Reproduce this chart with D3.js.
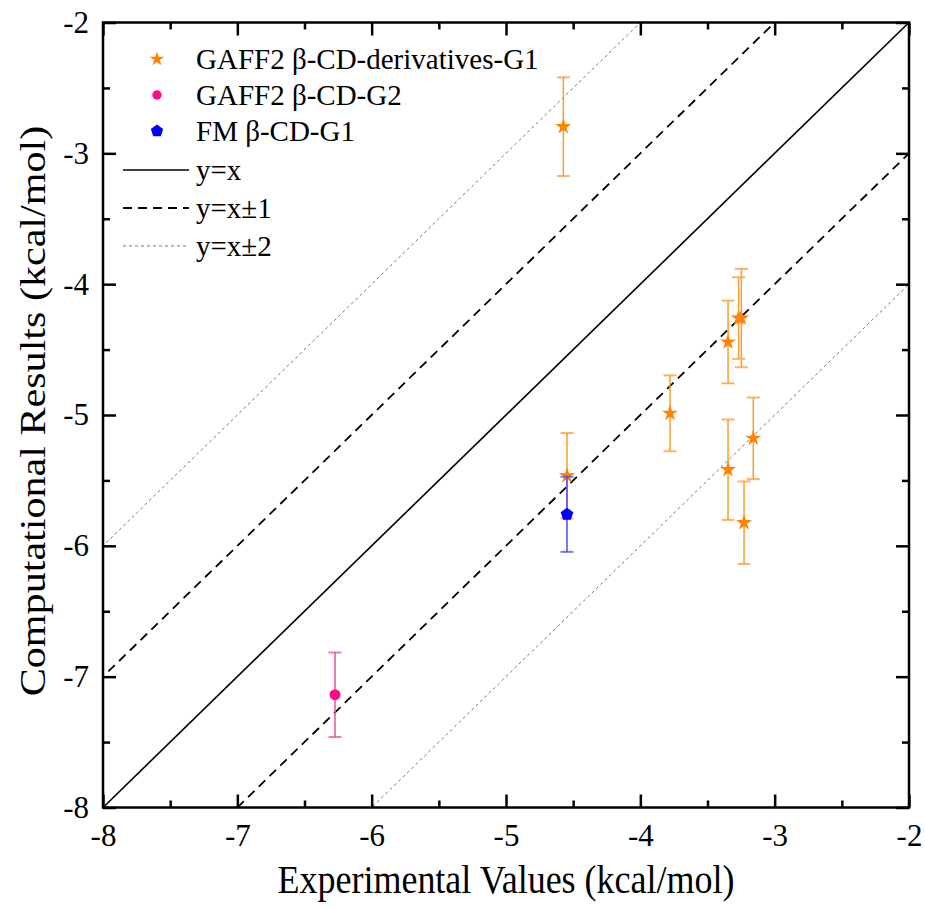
<!DOCTYPE html>
<html>
<head>
<meta charset="utf-8">
<script src="https://cdn.jsdelivr.net/npm/d3@7"></script>
<style>
  body { margin: 0; background: #fff; }
  text { font-family: "Liberation Serif", "Times New Roman", serif; fill: #000; }
</style>
</head>
<body>
<div id="chart"></div>
<script>
const width = 925,
  height = 908,
  margin = { top: 22.5, right: 16, bottom: 100.5, left: 103 };

// data
const derivExp = [-4.573, -3.347, -3.268, -3.248, -3.779, -3.347, -3.159, -3.228, -4.546];
const derivCalc = [-2.796, -4.442, -4.259, -4.259, -4.987, -5.418, -5.178, -5.823, -5.464];
const derivErr = [0.377, 0.316, 0.312, 0.376, 0.29, 0.384, 0.312, 0.315, 0.326];

const g2Exp = [-6.273];
const g2Calc = [-7.138];
const g2Err = [0.323];

const fmExp = [-4.546];
const fmCalc = [-5.759];
const fmErr = [0.287];

const majorTicks = [-8, -7, -6, -5, -4, -3, -2];
const minorTicks = [-7.5, -6.5, -5.5, -4.5, -3.5, -2.5];

const legendNames = ["GAFF2 β-CD-derivatives-G1", "GAFF2 β-CD-G2", "FM β-CD-G1", "y=x", "y=x±1", "y=x±2"];
const refOffsets = [0, 1, -1, 2, -2];

const w = width - margin.left - margin.right,
  h = height - margin.top - margin.bottom;

const svg = d3.select("#chart")
  .append("svg")
  .attr("width", width)
  .attr("height", height);

const x = d3.scaleLinear().domain([-8, -2]).range([0, w]);
const y = d3.scaleLinear().domain([-8, -2]).range([h, 0]);

svg.append("defs").append("clipPath").attr("id", "clip")
  .append("rect").attr("width", w).attr("height", h);

const g = svg.append("g")
  .attr("transform", `translate(${margin.left},${margin.top})`);

// reference lines
const refStyle = off => off === 0 ? { c: "#000", sw: 1.6, da: null }
  : Math.abs(off) === 1 ? { c: "#000", sw: 1.8, da: "9,6" }
  : { c: "#777", sw: 1, da: "3,3" };

const lines = g.append("g").attr("clip-path", "url(#clip)");
refOffsets.forEach(off => {
  const s = refStyle(off);
  lines.append("line")
    .attr("x1", x(-9)).attr("y1", y(-9 + off))
    .attr("x2", x(-1)).attr("y2", y(-1 + off))
    .attr("stroke", s.c)
    .attr("stroke-width", s.sw)
    .attr("stroke-dasharray", s.da);
});

// axes: ticks inside on all four sides
const fmt = d => String(d);
const axisBottom = d3.axisBottom(x).tickValues(majorTicks).tickSizeInner(-13).tickSizeOuter(0).tickPadding(16).tickFormat(fmt);
const axisLeft = d3.axisLeft(y).tickValues(majorTicks).tickSizeInner(-13).tickSizeOuter(0).tickPadding(14).tickFormat(fmt);

g.append("g").attr("transform", `translate(0,${h})`).call(axisBottom);
g.append("g").call(axisLeft);
g.append("g").call(d3.axisTop(x).tickValues(majorTicks).tickSizeInner(-13).tickSizeOuter(0).tickFormat(""));
g.append("g").attr("transform", `translate(${w},0)`).call(d3.axisRight(y).tickValues(majorTicks).tickSizeInner(-13).tickSizeOuter(0).tickFormat(""));

g.append("g").attr("transform", `translate(0,${h})`).call(d3.axisBottom(x).tickValues(minorTicks).tickSizeInner(-7).tickSizeOuter(0).tickFormat(""));
g.append("g").call(d3.axisTop(x).tickValues(minorTicks).tickSizeInner(-7).tickSizeOuter(0).tickFormat(""));
g.append("g").call(d3.axisLeft(y).tickValues(minorTicks).tickSizeInner(-7).tickSizeOuter(0).tickFormat(""));
g.append("g").attr("transform", `translate(${w},0)`).call(d3.axisRight(y).tickValues(minorTicks).tickSizeInner(-7).tickSizeOuter(0).tickFormat(""));

g.selectAll(".domain").remove();
g.selectAll(".tick line").attr("stroke", "#000").attr("stroke-width", 2.5);
g.selectAll(".tick text").style("font-size", "31px").style("font-family", "Liberation Serif");

g.append("rect")
  .attr("width", w).attr("height", h)
  .attr("fill", "none")
  .attr("stroke", "#000")
  .attr("stroke-width", 2.5);

// axis titles (the original looks slightly stretched vertically)
svg.append("text")
  .attr("transform", `translate(${margin.left + w / 2},893) scale(1,1.1)`)
  .attr("text-anchor", "middle")
  .style("font-size", "36px")
  .text("Experimental Values (kcal/mol)");

svg.append("text")
  .attr("transform", `translate(45,${margin.top + h / 2 - 4}) scale(1,1.17) rotate(-90)`)
  .attr("text-anchor", "middle")
  .style("font-size", "36px")
  .text("Computational Results (kcal/mol)");

// error bars + markers
function series(xs, ys, es, color, barColor, symbol, size) {
  const sg = g.append("g");
  xs.forEach((xv, i) => {
    const cx = x(xv), top = y(ys[i] + es[i]), bot = y(ys[i] - es[i]);
    sg.append("line").attr("x1", cx).attr("x2", cx).attr("y1", top).attr("y2", bot)
      .attr("stroke", barColor).attr("stroke-width", 1.5);
    [top, bot].forEach(yy => {
      sg.append("line").attr("x1", cx - 6.5).attr("x2", cx + 6.5).attr("y1", yy).attr("y2", yy)
        .attr("stroke", barColor).attr("stroke-width", 2).attr("stroke-opacity", 0.75);
    });
  });
  sg.selectAll("path.pt")
    .data(xs.map((xv, i) => [xv, ys[i]]))
    .join("path")
    .attr("class", "pt")
    .attr("transform", d => `translate(${x(d[0])},${y(d[1])})`)
    .attr("d", d3.symbol().type(symbol).size(size))
    .attr("fill", color);
}

const pentagon = {
  draw(ctx, size) {
    const r = Math.sqrt(size / 2.378);
    for (let k = 0; k < 5; k++) {
      const a = -Math.PI / 2 + k * 2 * Math.PI / 5;
      if (k === 0) ctx.moveTo(r * Math.cos(a), r * Math.sin(a));
      else ctx.lineTo(r * Math.cos(a), r * Math.sin(a));
    }
    ctx.closePath();
  }
};

series(derivExp, derivCalc, derivErr, "#ff8400", "#ff9a30", d3.symbolStar, 80);
series(g2Exp, g2Calc, g2Err, "#ff0a84", "#e8509a", d3.symbolCircle, 95);
series(fmExp, fmCalc, fmErr, "#0000ff", "#4a4aff", pentagon, 105);

// legend
const legend = svg.append("g");
const rowY = [59, 95, 131, 170, 208, 246];
const markers = [
  { type: d3.symbolStar, size: 65, color: "#ff8400" },
  { type: d3.symbolCircle, size: 70, color: "#ff0a84" },
  { type: pentagon, size: 100, color: "#0000ff" }
];
const legendLineOffsets = [0, 1, 2];
legendNames.forEach((name, i) => {
  const yy = rowY[i];
  if (i < 3) {
    legend.append("path")
      .attr("transform", `translate(157,${yy})`)
      .attr("d", d3.symbol().type(markers[i].type).size(markers[i].size))
      .attr("fill", markers[i].color);
  } else {
    const s = refStyle(legendLineOffsets[i - 3]);
    legend.append("line")
      .attr("x1", 123).attr("x2", 189).attr("y1", yy).attr("y2", yy)
      .attr("stroke", s.c).attr("stroke-width", s.sw).attr("stroke-dasharray", s.da);
  }
  legend.append("text")
    .attr("x", 196).attr("y", yy + 10)
    .style("font-size", "29px")
    .text(name);
});
</script>
</body>
</html>
